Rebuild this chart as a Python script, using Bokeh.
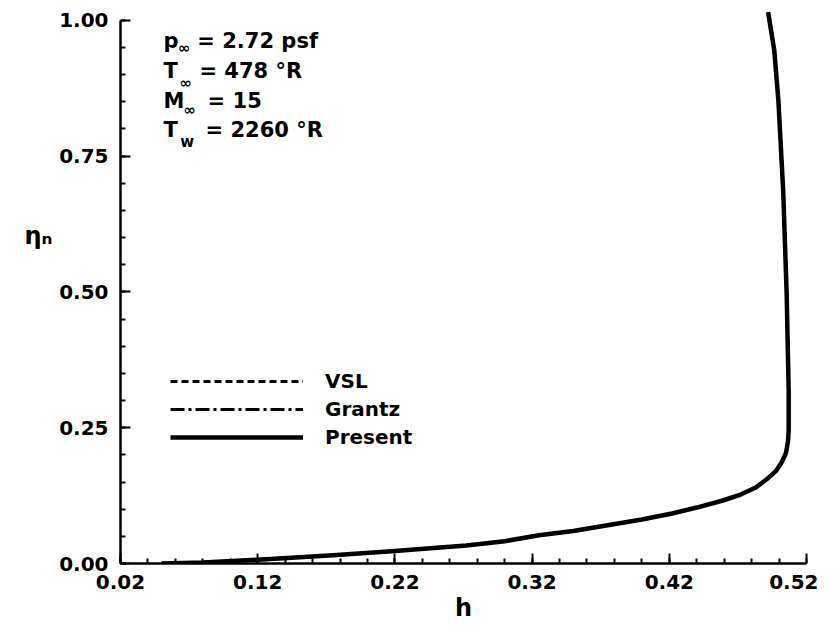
from bokeh.plotting import figure
from bokeh.models import Range1d, FixedTicker, Label, Legend, LegendItem, LinearAxis
from bokeh.embed import file_html
from bokeh.resources import INLINE

# ---- data ----
h_present = [0.050, 0.080, 0.120, 0.175, 0.220, 0.272, 0.300, 0.325, 0.350, 0.374,
             0.400, 0.422, 0.440, 0.459, 0.472, 0.483, 0.491, 0.498, 0.502, 0.505,
             0.5065, 0.507, 0.507, 0.5055, 0.503, 0.4995, 0.4965, 0.492]
eta_present = [0.000, 0.002, 0.007, 0.015, 0.023, 0.033, 0.041, 0.052, 0.060, 0.070,
               0.081, 0.092, 0.103, 0.116, 0.127, 0.140, 0.155, 0.171, 0.187, 0.203,
               0.225, 0.245, 0.320, 0.500, 0.687, 0.853, 0.945, 1.015]
# VSL and Grantz coincide with the present result at this scale
h_vsl = list(h_present)
eta_vsl = list(eta_present)
h_grantz = list(h_present)
eta_grantz = list(eta_present)

x_ticks = [0.02, 0.12, 0.22, 0.32, 0.42, 0.52]
x_tick_labels = ["0.02", "0.12", "0.22", "0.32", "0.42", "0.52"]
x_minor = [0.02 + 0.02 * i for i in range(26)]
y_ticks = [0.0, 0.25, 0.5, 0.75, 1.0]
y_tick_labels = ["0.00", "0.25", "0.50", "0.75", "1.00"]
y_minor = [0.05 * i for i in range(21)]

FONT = "DejaVu Sans"

p = figure(width=818, height=627, output_backend="svg", toolbar_location=None,
           x_range=Range1d(0.02, 0.52), y_range=Range1d(0.0, 1.02),
           min_border_left=120, min_border_right=12, min_border_top=9,
           min_border_bottom=64)
p.outline_line_color = None
p.grid.visible = False
p.background_fill_color = "white"
p.border_fill_color = "white"

r_vsl = p.line(h_vsl, eta_vsl, line_color="black", line_width=3, line_dash="7 4")
r_grantz = p.line(h_grantz, eta_grantz, line_color="black", line_width=3, line_dash="14 4 3 4")
r_present = p.line(h_present, eta_present, line_color="black", line_width=4.5,
                   line_join="round")

for ax in (p.xaxis[0], p.yaxis[0]):
    ax.axis_line_width = 2.5
    ax.major_tick_line_width = 2
    ax.minor_tick_line_width = 2
    ax.major_tick_out = 0
    ax.minor_tick_out = 0
    ax.major_tick_in = 10
    ax.minor_tick_in = 5
    ax.major_label_text_font = FONT
    ax.major_label_text_font_style = "bold"
    ax.major_label_text_font_size = "20px"
    ax.major_label_text_color = "black"

p.xaxis[0].ticker = FixedTicker(ticks=x_ticks, minor_ticks=x_minor)
p.xaxis[0].major_label_overrides = {t: s for t, s in zip(x_ticks, x_tick_labels)}
p.xaxis[0].major_label_standoff = 11
p.xaxis[0].axis_label = "h"
p.xaxis[0].axis_label_text_font = FONT
p.xaxis[0].axis_label_text_font_style = "bold"
p.xaxis[0].axis_label_text_font_size = "24px"
p.xaxis[0].axis_label_text_color = "black"
p.xaxis[0].axis_label_standoff = 2

p.yaxis[0].ticker = FixedTicker(ticks=y_ticks, minor_ticks=y_minor)
p.yaxis[0].major_label_overrides = {t: s for t, s in zip(y_ticks, y_tick_labels)}
p.yaxis[0].major_label_standoff = 12
p.yaxis[0].bounds = (0.0, 1.0)

# label-only axis carrying the horizontal eta_n title (trailing blank lines lift it up)
ylab = LinearAxis(ticker=FixedTicker(ticks=[]),
                  axis_line_color=None, major_tick_out=0, minor_tick_out=0,
                  major_label_text_font_size="0px",
                  axis_label="ηₙ\n\n\n", axis_label_orientation="horizontal",
                  axis_label_text_font=FONT, axis_label_text_font_style="bold",
                  axis_label_text_font_size="24px", axis_label_text_color="black",
                  axis_label_standoff=4)
p.add_layout(ylab, "left")


def lab(x, y, text, size="21px", **kw):
    p.add_layout(Label(x=x, y=y, text=text, text_font=FONT, text_font_style="bold",
                       text_font_size=size, text_color="black", text_baseline="alphabetic",
                       **kw))

# condition annotations
lab(0.0513, 0.962, "p")
lab(0.0620, 0.950, "∞", size="15px")
lab(0.0760, 0.962, "= 2.72 psf")
lab(0.0513, 0.907, "T")
lab(0.0630, 0.884, "∞", size="15px")
lab(0.0775, 0.907, "= 478 °R")
lab(0.0513, 0.852, "M")
lab(0.0660, 0.835, "∞", size="15px")
lab(0.0835, 0.852, "= 15")
lab(0.0513, 0.799, "T")
lab(0.0635, 0.776, "w", size="15px")
lab(0.0820, 0.799, "= 2260 °R")

legend = Legend(items=[LegendItem(label="VSL", renderers=[r_vsl]),
                       LegendItem(label="Grantz", renderers=[r_grantz]),
                       LegendItem(label="Present", renderers=[r_present])],
                location=(50, 114), orientation="vertical",
                glyph_width=133, glyph_height=20, label_height=20, spacing=4,
                label_standoff=22, padding=0, margin=0,
                border_line_color=None, background_fill_alpha=0,
                label_text_font=FONT, label_text_font_style="bold",
                label_text_font_size="20px", label_text_color="black")
p.add_layout(legend)

open("out.html", "w").write(file_html(p, INLINE))
